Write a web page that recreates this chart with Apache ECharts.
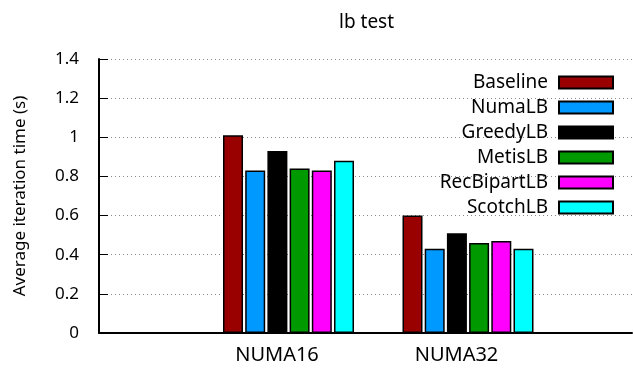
<!DOCTYPE html>
<html><head><meta charset="utf-8">
<script src="https://cdn.jsdelivr.net/npm/echarts@6/dist/echarts.min.js"></script>
<style>html,body{margin:0;padding:0;background:#fff}#c{width:634px;height:369px}</style>
</head><body><div id="c"></div>
<script>
const categories = ['NUMA16', 'NUMA32'];
const seriesNames = ['Baseline', 'NumaLB', 'GreedyLB', 'MetisLB', 'RecBipartLB', 'ScotchLB'];
const baseline = [1.01, 0.60];
const numaLB = [0.83, 0.43];
const greedyLB = [0.93, 0.51];
const metisLB = [0.84, 0.46];
const recBipartLB = [0.83, 0.47];
const scotchLB = [0.88, 0.43];
const yTicks = [0, 0.2, 0.4, 0.6, 0.8, 1, 1.2, 1.4];
const colors = ['#990000', '#0099ff', '#000000', '#009900', '#ff00ff', '#00ffff'];
const values = [baseline, numaLB, greedyLB, metisLB, recBipartLB, scotchLB];

const FONT = 'Noto Sans';
const chart = echarts.init(document.getElementById('c'), null, {renderer: 'canvas'});
chart.setOption({
  animation: false,
  textStyle: {fontFamily: FONT, color: '#000'},
  title: {text: 'lb test', left: 334, top: 8, textStyle: {fontFamily: FONT, fontSize: 19, fontWeight: 'normal', color: '#000'}},
  grid: [
    {left: 99, right: 2, top: 59, bottom: 36},
    {left: 198.75, right: 76.25, top: 59, bottom: 36}
  ],
  legend: {
    data: seriesNames, orient: 'vertical', align: 'right', right: 15, top: 68,
    icon: 'rect', itemWidth: 54, itemHeight: 12, itemGap: 6,
    textStyle: {fontFamily: FONT, fontSize: 19, color: '#000', padding: [0, 6, 0, 0]}
  },
  xAxis: [
    {type: 'value', gridIndex: 0, min: 0, max: 1, axisLine: {show: true, onZero: false, lineStyle: {color: '#000', width: 2}},
     axisTick: {show: false}, axisLabel: {show: false}, splitLine: {show: false}},
    {type: 'category', gridIndex: 1, data: categories, axisLine: {show: false}, axisTick: {show: false},
     axisLabel: {margin: 12, fontFamily: FONT, fontSize: 20, color: '#000', padding: [0, 23, 0, 0]}}
  ],
  yAxis: [
    {type: 'value', gridIndex: 0, min: 0, max: 1.4, interval: 0.2,
     name: 'Average iteration time (s)', nameLocation: 'middle', nameGap: 70,
     nameTextStyle: {fontFamily: FONT, fontSize: 17, color: '#000'},
     axisLine: {show: true, lineStyle: {color: '#000', width: 2}},
     axisTick: {show: true, inside: true, length: 9, lineStyle: {color: '#000', width: 1}},
     axisLabel: {margin: 20, fontFamily: FONT, fontSize: 17, color: '#000'},
     splitLine: {show: true, lineStyle: {color: '#888', width: 1, type: [1, 3]}}},
    {type: 'value', gridIndex: 1, min: 0, max: 1.4, interval: 0.2, show: false, splitLine: {show: false}}
  ],
  series: seriesNames.map((n, i) => ({
    name: n, type: 'bar', xAxisIndex: 1, yAxisIndex: 1, data: values[i],
    barWidth: 20, barGap: '11%',
    itemStyle: {color: colors[i], borderColor: '#000', borderWidth: 1.5}
  }))
});
</script></body></html>
